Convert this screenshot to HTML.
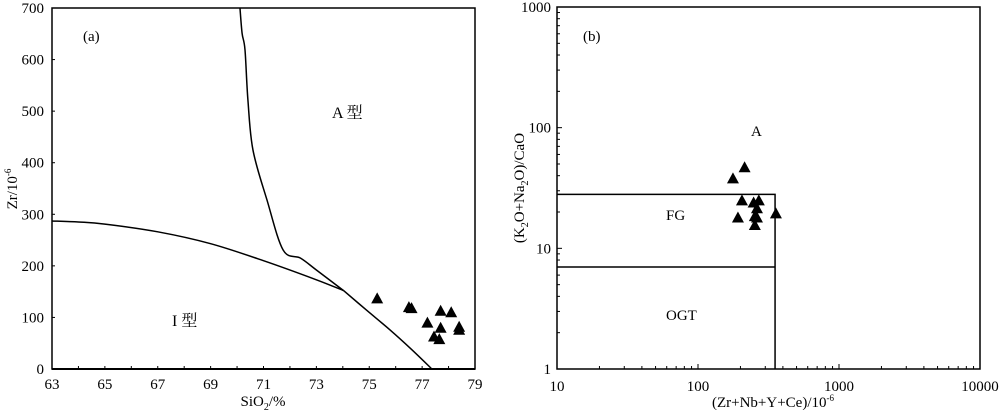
<!DOCTYPE html>
<html><head><meta charset="utf-8">
<style>
body{margin:0;background:#fff;}
svg{display:block;font-family:"Liberation Serif","Noto Serif CJK SC",serif;}
</style></head>
<body>
<svg id="c" width="1000" height="410" viewBox="0 0 1000 410" xmlns="http://www.w3.org/2000/svg">
<g id="pa"></g>
<g id="pb"></g>
</svg>
<script>
// Panel (a) data
const aXTicks = [63,65,67,69,71,73,75,77,79];
const aYTicks = [0,100,200,300,400,500,600,700];
const aSiO2 = [75.3,76.5,76.6,77.7,78.1,77.2,77.7,77.45,77.65,78.4,78.4];
const aZr = [137,120,118,113,110,90,80,63,58,82,76];
const aCurveSteepX = [70.11,70.19,70.30,70.41,70.60,71.13,71.74,72.4,73.0,74.03];
const aCurveSteepY = [700,651,619,522,425,328,231,215,192,152];
const aCurveLowX = [63,64,65,67,69,71,73,74.03];
const aCurveLowY = [287,285,281,266,243,210,173,152];
const aLineX = [74.03,74.9,75.78,76.6,77.37];
const aLineY = [152,114,76,38,0];
// Panel (b) data
const bXTicks = [10,100,1000,10000];
const bYTicks = [1,10,100,1000];
const bX = [177,214,205,192,248,270,262,253,262,253,357];
const bY = [38,47,25,18,24,25,21.5,18.5,18,15.6,19.5];
const bFGTop = 28, bOGTTop = 7, bBoxRight = 352;

const NS="http://www.w3.org/2000/svg";
function mk(tag,attrs,parent,name,txt){const e=document.createElementNS(NS,tag);for(const k in attrs)e.setAttribute(k,attrs[k]);


if(txt!==undefined)e.textContent=txt;parent.appendChild(e);return e;}
function tri(g,x,y,name){mk('polygon',{points:`${x},${y-6} ${x-6},${y+5} ${x+6},${y+5}`,fill:'#000'},g,name);}
function smooth(pts){let d=`M${pts[0][0]},${pts[0][1]}`;
 for(let i=0;i<pts.length-1;i++){const p0=pts[Math.max(0,i-1)],p1=pts[i],p2=pts[i+1],p3=pts[Math.min(pts.length-1,i+2)];
  const c1=[p1[0]+(p2[0]-p0[0])/6,p1[1]+(p2[1]-p0[1])/6],c2=[p2[0]-(p3[0]-p1[0])/6,p2[1]-(p3[1]-p1[1])/6];
  d+=` C${c1[0]},${c1[1]} ${c2[0]},${c2[1]} ${p2[0]},${p2[1]}`;}
 return d;}

// ---- Panel a
const pa=document.getElementById('pa');
const aL=52,aR=475,aT=8,aB=369;
const ax=v=>aL+(v-63)/(79-63)*(aR-aL);
const ay=v=>aB-(v/700)*(aB-aT);
mk('rect',{x:aL,y:aT,width:aR-aL,height:aB-aT,fill:'none',stroke:'#000','stroke-width':1.5},pa,'plot-frame-a');
mk('line',{x1:aL,y1:aB,x2:aR,y2:aB,stroke:'#000','stroke-width':2},pa,'x-axis-a');
for(let v=64;v<79;v++)mk('line',{x1:ax(v),y1:aB,x2:ax(v),y2:aB-3,stroke:'#000'},pa,'x-tick-a');
aXTicks.forEach(v=>mk('text',{x:ax(v),y:aB+20,'text-anchor':'middle','font-size':15},pa,'x-tick-label-a',v));
aYTicks.forEach(v=>{mk('line',{x1:aL,y1:ay(v),x2:aL+3,y2:ay(v),stroke:'#000'},pa,'y-tick-a');
 mk('text',{x:aL-8,y:ay(v)+5,'text-anchor':'end','font-size':15},pa,'y-tick-label-a',v);});
const curve=(xs,ys,name)=>mk('path',{d:smooth(xs.map((x,i)=>[ax(x),ay(ys[i])])),fill:'none',stroke:'#000','stroke-width':1.5},pa,name);
curve(aCurveSteepX,aCurveSteepY,'boundary-steep-curve');
curve(aCurveLowX,aCurveLowY,'boundary-low-curve');
curve(aLineX,aLineY,'boundary-line');
aSiO2.forEach((v,i)=>tri(pa,ax(v),ay(aZr[i]),'sample-point-a'));
mk('text',{x:83,y:41,'font-size':15},pa,'panel-label-a','(a)');
mk('text',{x:332,y:118,'font-size':16},pa,'region-label-a-type','A 型');
mk('text',{x:172,y:326,'font-size':16},pa,'region-label-i-type','I 型');
const xt=mk('text',{x:263,y:406,'text-anchor':'middle','font-size':15},pa,'x-axis-title-a');
xt.innerHTML='SiO<tspan font-size="10" dy="4">2</tspan><tspan dy="-4">/%</tspan>';
const yt=mk('text',{x:0,y:0,'text-anchor':'middle','font-size':15,transform:'translate(17,189) rotate(-90)'},pa,'y-axis-title-a');
yt.innerHTML='Zr/10<tspan font-size="9" dy="-6">-6</tspan>';

// ---- Panel b
const pb=document.getElementById('pb');
const bL=557,bR=980,bT=7,bB=369;
const bx=v=>bL+(Math.log10(v)-1)/3*(bR-bL);
const by=v=>bB-Math.log10(v)/3*(bB-bT);
mk('rect',{x:bL,y:bT,width:bR-bL,height:bB-bT,fill:'none',stroke:'#000','stroke-width':1.5},pb,'plot-frame-b');
for(let d=1;d<=1000;d*=10){for(let m=1;m<10;m++){const v=d*m;if(v>1000)break;
 mk('line',{x1:bL,y1:by(v),x2:bL+(m===1?5:3),y2:by(v),stroke:'#000'},pb,'y-tick-b');}}
for(let d=10;d<=10000;d*=10){for(let m=1;m<10;m++){const v=d*m;if(v>10000)break;
 mk('line',{x1:bx(v),y1:bB,x2:bx(v),y2:bB-(m===1?5:3),stroke:'#000'},pb,'x-tick-b');}}
bXTicks.forEach(v=>mk('text',{x:bx(v),y:bB+22,'text-anchor':'middle','font-size':15},pb,'x-tick-label-b',v));
bYTicks.forEach(v=>mk('text',{x:bL-6,y:by(v)+5,'text-anchor':'end','font-size':15},pb,'y-tick-label-b',v));
mk('polyline',{points:`${bL},${by(bFGTop)} ${bx(bBoxRight)},${by(bFGTop)} ${bx(bBoxRight)},${bB}`,fill:'none',stroke:'#000','stroke-width':1.5},pb,'fg-box-boundary');
mk('line',{x1:bL,y1:by(bOGTTop),x2:bx(bBoxRight),y2:by(bOGTTop),stroke:'#000','stroke-width':1.5},pb,'ogt-boundary');
bX.forEach((v,i)=>tri(pb,bx(v),by(bY[i]),'sample-point-b'));
mk('text',{x:583,y:41,'font-size':15},pb,'panel-label-b','(b)');
mk('text',{x:751,y:136,'font-size':15},pb,'region-label-a','A');
mk('text',{x:666,y:220,'font-size':15},pb,'region-label-fg','FG');
mk('text',{x:666,y:320,'font-size':15},pb,'region-label-ogt','OGT');
const bxt=mk('text',{x:773,y:407,'text-anchor':'middle','font-size':15},pb,'x-axis-title-b');
bxt.innerHTML='(Zr+Nb+Y+Ce)/10<tspan font-size="9" dy="-6">-6</tspan>';
const byt=mk('text',{x:0,y:0,'text-anchor':'middle','font-size':15,transform:'translate(524,188) rotate(-90)'},pb,'y-axis-title-b');
byt.innerHTML='(K<tspan font-size="10" dy="4">2</tspan><tspan dy="-4">O+Na</tspan><tspan font-size="10" dy="4">2</tspan><tspan dy="-4">O)/CaO</tspan>';
</script>
</body></html>
